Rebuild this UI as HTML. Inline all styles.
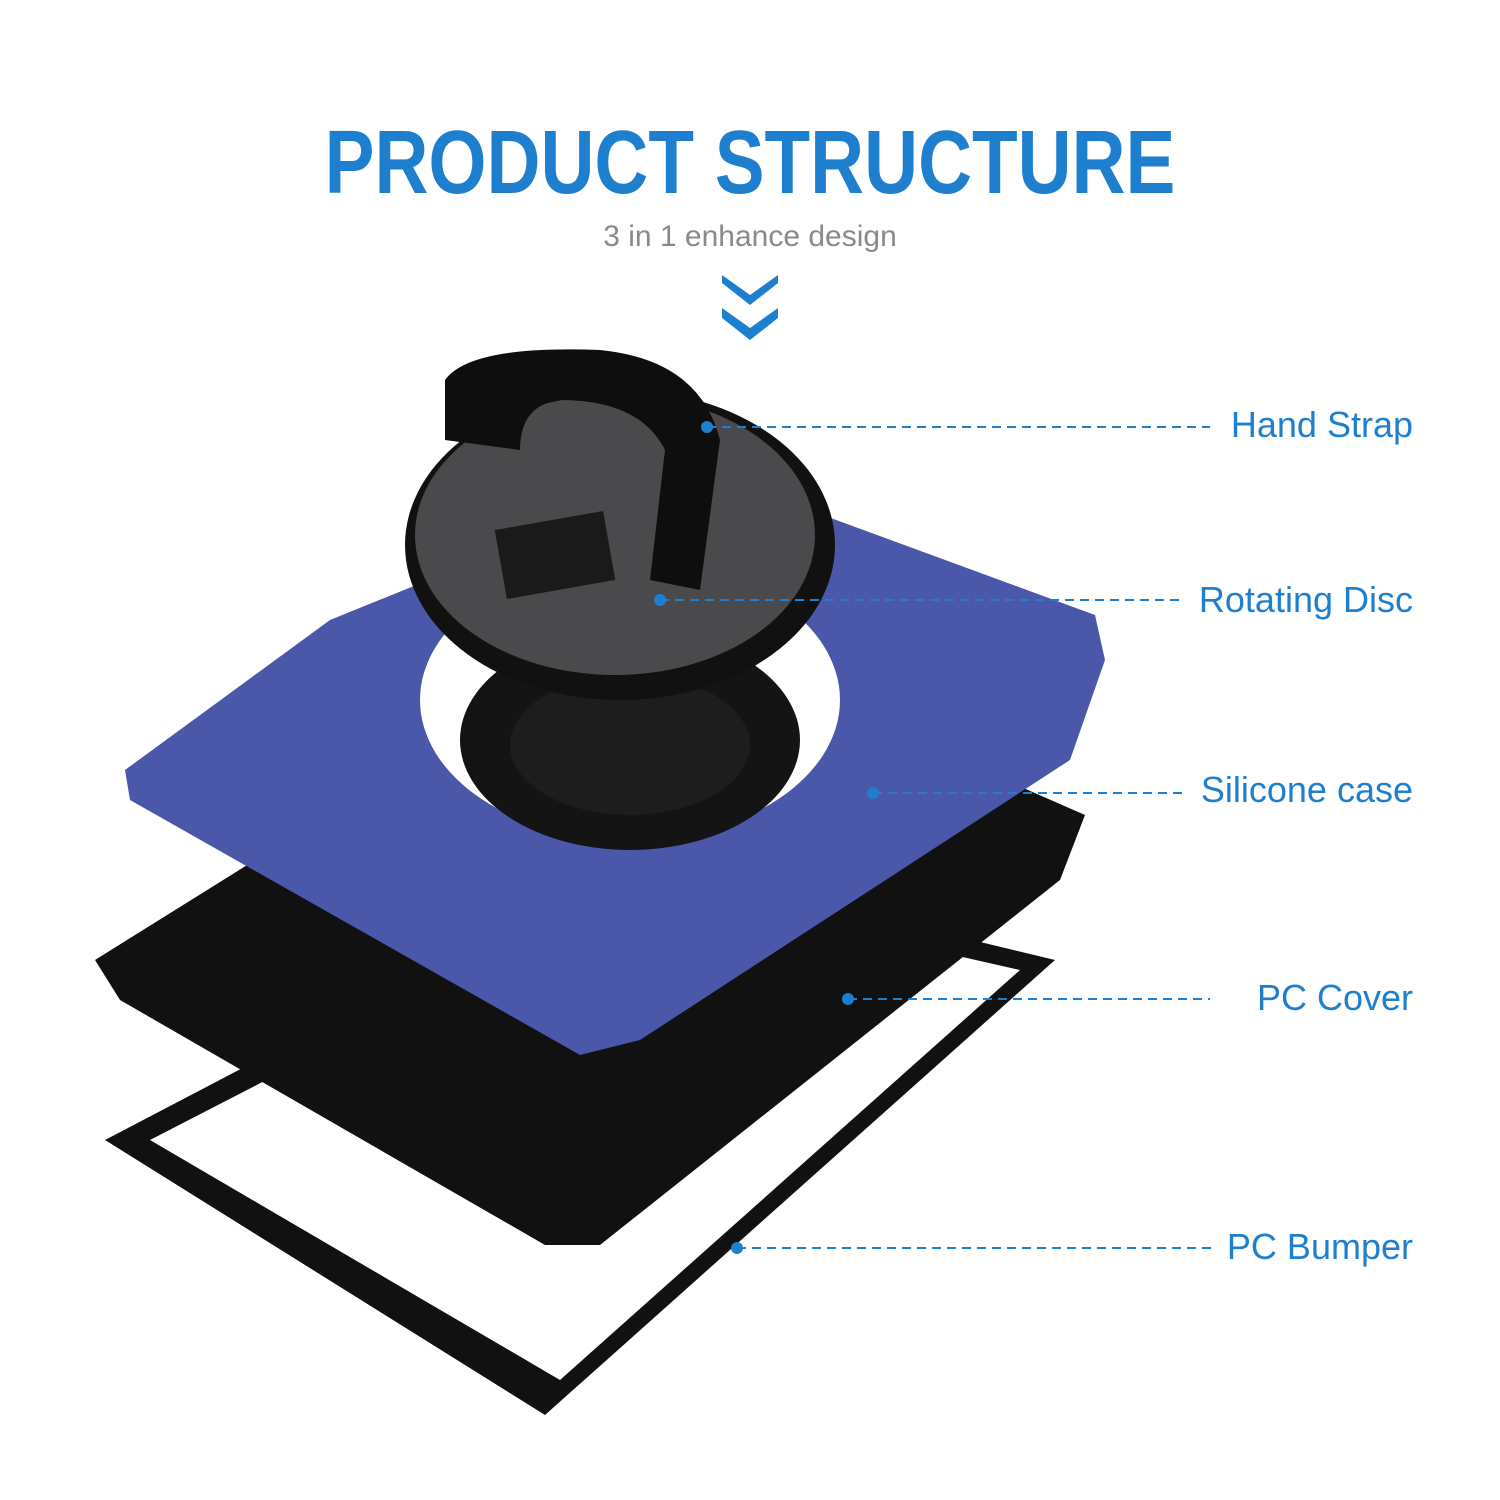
<!DOCTYPE html>
<html><head><meta charset="utf-8"><style>
html,body{margin:0;padding:0;background:#fff}
body{width:1500px;height:1500px;position:relative;overflow:hidden;font-family:"Liberation Sans",sans-serif}
.t{position:absolute;left:0;width:1500px;text-align:center}
.lbl{position:absolute;right:87px;color:#1f7fcf;font-size:36px;line-height:40px}
</style></head><body>
<div class="t" style="top:112px;font-size:90px;font-weight:bold;color:#1f7fcf;transform:scaleX(0.83);transform-origin:750px 0">PRODUCT STRUCTURE</div>
<div class="t" style="top:220px;font-size:30px;color:#8a8a8a">3 in 1 enhance design</div>
<svg width="1500" height="1500" style="position:absolute;left:0;top:0">
<polygon points="722,275 750,295 778,275 778,283 750,305 722,283" fill="#1f7fcf"/>
<polygon points="722,308 750,328 778,308 778,318 750,340 722,318" fill="#1f7fcf"/>
<path d="M105,1140 L640,860 L1055,960 L545,1415 Z M150,1140 L645,885 L1020,970 L560,1380 Z" fill="#111" fill-rule="evenodd"/>
<polygon points="95,960 640,620 1085,815 1060,880 600,1245 545,1245 120,1000" fill="#111"/>
<path d="M125,770 L330,620 L700,470 L1095,615 L1105,660 L1070,760 L640,1040 L580,1055 L130,800 Z" fill="#4b57a8"/>
<ellipse cx="630" cy="700" rx="210" ry="140" fill="#fff"/>
<ellipse cx="630" cy="740" rx="170" ry="110" fill="#141414"/>
<ellipse cx="630" cy="745" rx="120" ry="70" fill="#1d1d1d"/>
<ellipse cx="620" cy="545" rx="215" ry="155" fill="#111"/>
<ellipse cx="615" cy="535" rx="200" ry="140" fill="#4a4a4d"/>
<rect x="500" y="520" width="110" height="70" fill="#1a1a1a" transform="rotate(-10 555 555)"/>
<path d="M445,380 Q470,345 600,350 Q700,360 720,440 L700,590 L650,580 L665,450 Q640,400 560,400 Q520,405 520,450 L445,440 Z" fill="#0e0e0e"/>
<g stroke="#1f7fcf" stroke-width="2" stroke-dasharray="9,6" fill="none">
<line x1="707" y1="427" x2="1210" y2="427"/>
<line x1="660" y1="600" x2="1180" y2="600"/>
<line x1="873" y1="793" x2="1185" y2="793"/>
<line x1="848" y1="999" x2="1210" y2="999"/>
<line x1="737" y1="1248" x2="1212" y2="1248"/>
</g>
<g fill="#1f7fcf">
<circle cx="707" cy="427" r="6"/><circle cx="660" cy="600" r="6"/><circle cx="873" cy="793" r="6"/><circle cx="848" cy="999" r="6"/><circle cx="737" cy="1248" r="6"/>
</g>
</svg>
<div class="lbl" style="top:405px">Hand Strap</div>
<div class="lbl" style="top:580px">Rotating Disc</div>
<div class="lbl" style="top:770px">Silicone case</div>
<div class="lbl" style="top:978px">PC Cover</div>
<div class="lbl" style="top:1227px">PC Bumper</div>
</body></html>
